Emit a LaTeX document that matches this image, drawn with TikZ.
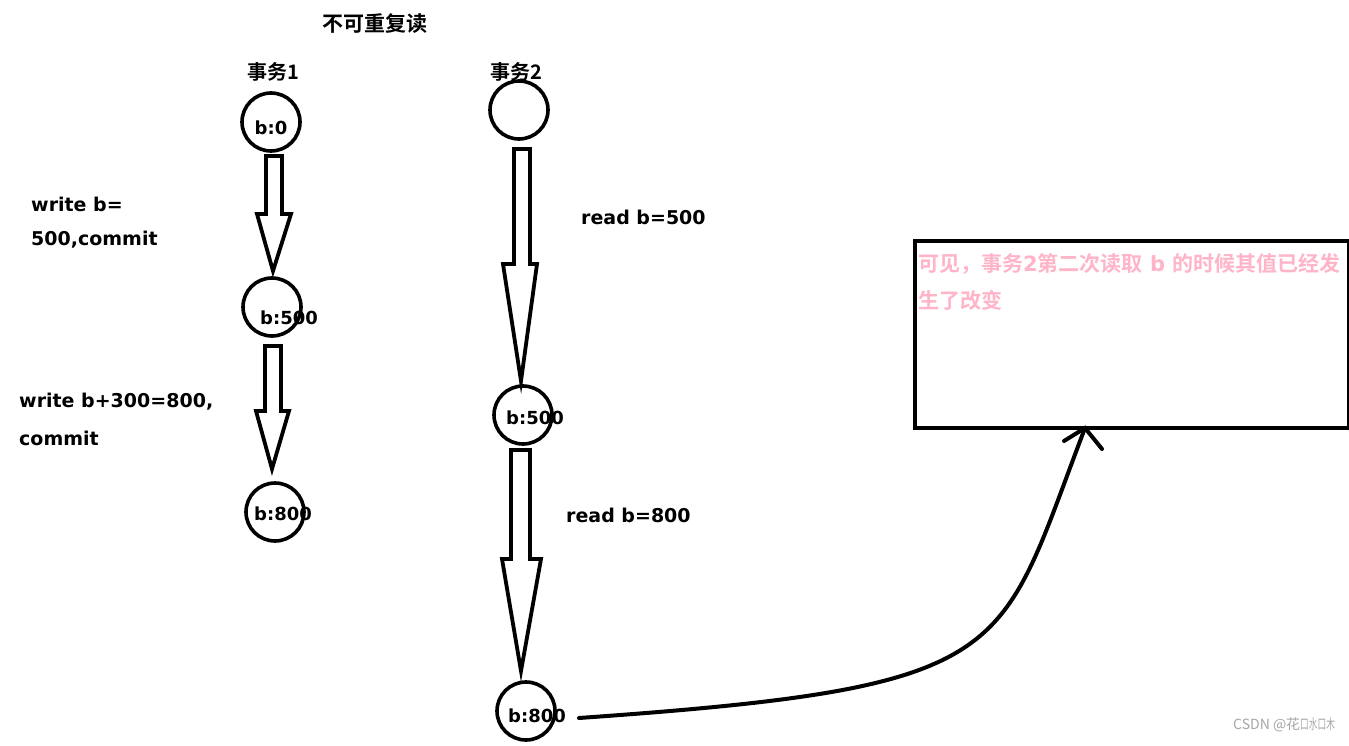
\documentclass[tikz,border=0pt]{standalone}
\usepackage{fontspec}
\setmainfont{Noto Sans CJK SC}[BoldFont={Noto Sans CJK SC Bold}]
\newfontfamily\lat{DejaVu Sans}
\definecolor{notepink}{RGB}{255,180,200}
\begin{document}
\begin{tikzpicture}[x=1pt,y=-1pt,
  st/.style={circle,draw=black,line width=3.6pt,minimum size=58pt,inner sep=0pt},
  lab/.style={font=\fontsize{20}{24}\selectfont\bfseries,inner sep=0pt},
  clab/.style={font=\lat\fontsize{18}{24}\selectfont\bfseries,inner sep=0pt},
  txt/.style={font=\lat\fontsize{19}{24}\selectfont\bfseries,inner sep=0pt,anchor=west},
  ptxt/.style={inner sep=0pt,anchor=west,text=notepink,font=\fontsize{21}{24}\selectfont\bfseries},
  harrow/.style={draw=black,line width=3.8pt,line join=miter,fill=white},
  link/.style={draw=black,line width=4pt,line cap=round}]
\useasboundingbox (0,0) rectangle (1349,746);
\fill[white] (0,0) rectangle (1349,746);
% title and headers
\node[lab,font=\fontsize{21}{24}\selectfont\bfseries] (title) at (375,24) {不可重复读};
\node[lab] (h1) at (273,72) {事务1};
\node[lab] (h2) at (516,72) {事务2};
% transaction 1
\node[st] (a1) at (271,122) {};
\node[clab] (a1t) at (271,128) {b:0};
\node[st] (a2) at (272,307) {};
\node[clab] (a2t) at (289,318) {b:500};
\node[st] (a3) at (275,512) {};
\node[clab] (a3t) at (283,514) {b:800};
% transaction 2
\node[st] (b1) at (519,110) {};
\node[st] (b2) at (523,415) {};
\node[clab] (b2t) at (535,418) {b:500};
\node[st] (b3) at (526,711) {};
\node[clab] (b3t) at (537,716) {b:800};
% hollow arrows
\draw[harrow] (266,156) -- (282,156) -- (282,214) -- (291,214) -- (273,271) -- (257,214) -- (266,214) -- cycle;
\draw[harrow] (265,346) -- (281,346) -- (281,411) -- (289,411) -- (272,469) -- (256,411) -- (265,411) -- cycle;
\draw[harrow] (514,149) -- (530,149) -- (530,264) -- (537,264) -- (521,381) -- (503,264) -- (514,264) -- cycle;
\draw[harrow] (511,450) -- (530,450) -- (530,559) -- (541,559) -- (521,671) -- (502,559) -- (511,559) -- cycle;
% labels
\node[txt] (w1) at (31,204) {write b=};
\node[txt] (w1b) at (31,240) {500,commit};
\node[txt] (w2) at (19,402) {write b+300=800,};
\node[txt] (w2b) at (19,438) {commit};
\node[txt] (r1) at (581,217) {read b=500};
\node[txt] (r2) at (566,515) {read b=800};
% note box
\node[draw=black,line width=4pt,minimum width=434pt,minimum height=187pt,inner sep=0pt,anchor=north west] (note) at (913,239) {};
\node[ptxt] (n1) at (918,264) {可见，事务{\lat 2}第二次读取{\lat\ b }的时候其值已经发};
\node[ptxt] (n2) at (918,300) {生了改变};
% curve
\coordinate (cs) at (579,718);
\coordinate (ce) at (1085,428);
\draw[link] (cs) .. controls (1020,687) and (997,658) .. (ce);
\coordinate (hl) at (1064,441);
\coordinate (hr) at (1102,449);
\draw[link,line join=miter] (hl) -- (ce) -- (hr);
% watermark
\node[inner sep=0pt,anchor=west,text=gray!70,font=\fontsize{14}{18}\selectfont] (wm) at (1233,725) {CSDN @花\scalebox{0.62}[1]{口水口木}};
\end{tikzpicture}
\end{document}
